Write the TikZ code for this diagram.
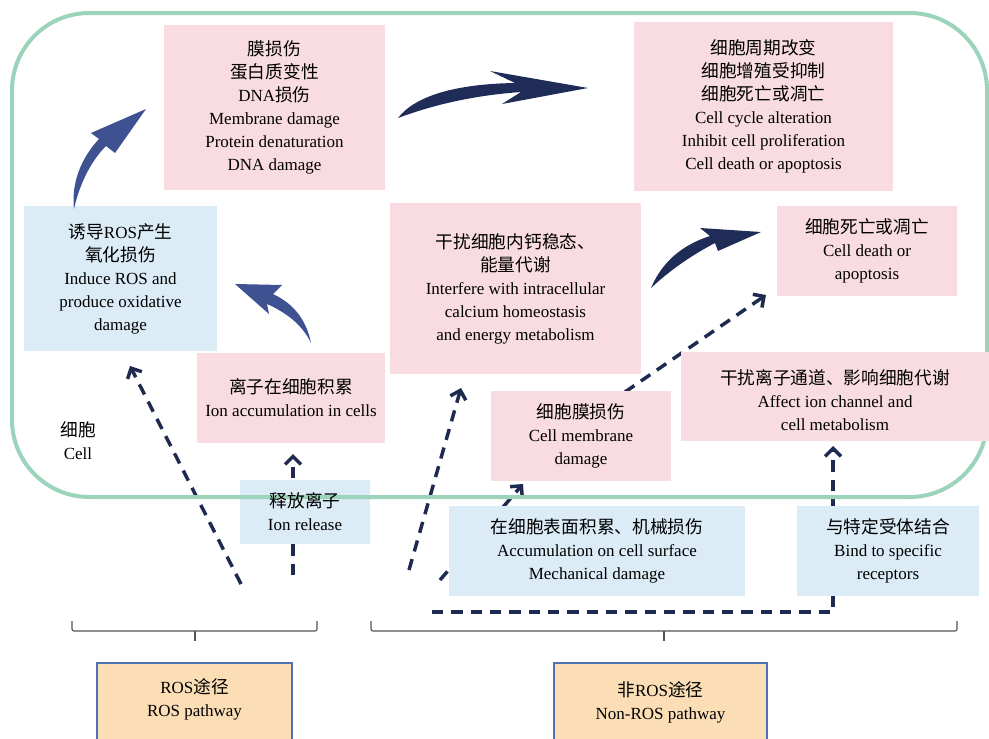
\documentclass[tikz,border=0pt]{standalone}
\usepackage{fontspec}
\setmainfont{Liberation Serif}
\newfontfamily\cjk[Scale=1.04]{Noto Sans CJK SC}
\newcommand{\zh}[1]{{\cjk #1}}
\usetikzlibrary{arrows.meta,fit}
\definecolor{pinkfill}{HTML}{F8DCE1}
\definecolor{bluefill}{HTML}{DBECF7}
\definecolor{orangefill}{HTML}{FBDDB6}
\definecolor{orangeborder}{HTML}{4E73B5}
\definecolor{cellgreen}{HTML}{9BD4BA}
\definecolor{navydash}{HTML}{1E2A50}
\definecolor{navyA}{HTML}{3E5191}
\definecolor{navyB}{HTML}{1F2C58}
\definecolor{bracegray}{HTML}{555555}
\begin{document}
\begin{tikzpicture}[x=0.75pt,y=-0.75pt,
  txt/.style={align=center,font=\fontsize{12.75pt}{17.25pt}\selectfont,text=black,inner sep=0pt},
  box/.style={inner sep=0pt,draw=none},
  pinkbox/.style={box,fill=pinkfill},
  bluebox/.style={box,fill=bluefill},
  orangebox/.style={inner sep=0pt,fill=orangefill,draw=orangeborder,line width=1.2pt},
  dasharrow/.style={draw=navydash,line width=2.6pt,dash pattern=on 8.5pt off 6pt,-{Straight Barb[length=6pt,width=12pt]}},
  bracket/.style={draw=bracegray,line width=0.9pt,rounded corners=1.5pt},
  curvA/.style={fill=navyA,draw=none},
  curvB/.style={fill=navyB,draw=none}
]
\useasboundingbox (0,0) rectangle (989,739);
\fill[white] (0,0) rectangle (989,739);
\clip (0,0) rectangle (989,739);

% dashed connector end points
\coordinate (s1) at (241,584); \coordinate (t1) at (130,366);
\coordinate (s2) at (293,575); \coordinate (t2) at (293,454);
\coordinate (s3) at (409,570); \coordinate (t3) at (461,388);
\coordinate (s4) at (440,580); \coordinate (t4) at (523,484);
\coordinate (s5) at (625,392); \coordinate (t5) at (766,295);
\coordinate (s6) at (432,612); \coordinate (t6) at (833,446);

% dashed connectors (behind the boxes)
\draw[dasharrow] (s1) -- (t1);
\draw[dasharrow] (s2) -- (t2);
\draw[dasharrow] (s3) -- (t3);
\draw[dasharrow] (s4) -- (t4);
\draw[dasharrow] (s5) -- (t5);
\draw[dasharrow] (s6) -| (t6);

% boxes
\node[pinkbox, fit={(164,25) (385,190)}] (A) {};
\node[pinkbox, fit={(634,22) (893,191)}] (B) {};
\node[bluebox, fit={(24,206) (217,351)}] (C) {};
\node[pinkbox, fit={(390,203) (641,374)}] (D) {};
\node[pinkbox, fit={(777,206) (957,296)}] (E) {};
\node[pinkbox, fit={(197,353) (385,443)}] (F) {};
\node[pinkbox, fit={(491,391) (671,481)}] (G) {};
\node[bluebox, fit={(240,480) (370,544)}] (I) {};
\node[bluebox, fit={(449,506) (745,596)}] (J) {};
\node[bluebox, fit={(797,506) (979,596)}] (K) {};

% cell outline
\draw[cellgreen, line width=3pt, rounded corners=58pt] (12,13) rectangle (987,497);

\node[pinkbox, fit={(681,352) (992,441)}] (H) {};

% box texts
\node[txt] (At) at (A.center)
  {\zh{膜损伤}\\ \zh{蛋白质变性}\\ DNA\zh{损伤}\\ Membrane damage\\ Protein denaturation\\ DNA damage};
\node[txt] (Bt) at (B.center)
  {\zh{细胞周期改变}\\ \zh{细胞增殖受抑制}\\ \zh{细胞死亡或凋亡}\\ Cell cycle alteration\\ Inhibit cell proliferation\\ Cell death or apoptosis};
\node[txt] (Ct) at (C.center)
  {\zh{诱导}ROS\zh{产生}\\ \zh{氧化损伤}\\ Induce ROS and\\ produce oxidative\\ damage};
\node[txt] (Dt) at (D.center)
  {\zh{干扰细胞内钙稳态、}\\ \zh{能量代谢}\\ Interfere with intracellular\\ calcium homeostasis\\ and energy metabolism};
\node[txt] (Et) at (E.center)
  {\zh{细胞死亡或凋亡}\\ Cell death or\\ apoptosis};
\node[txt] (Ft) at (F.center)
  {\zh{离子在细胞积累}\\ Ion accumulation in cells};
\node[txt] (Gt) at (G.center)
  {\zh{细胞膜损伤}\\ Cell membrane\\ damage};
\node[txt] (Ht) at (835,400)
  {\zh{干扰离子通道、影响细胞代谢}\\ Affect ion channel and\\ cell metabolism};
\node[txt] (It) at (I.center)
  {\zh{释放离子}\\ Ion release};
\node[txt] (Jt) at (J.center)
  {\zh{在细胞表面积累、机械损伤}\\ Accumulation on cell surface\\ Mechanical damage};
\node[txt] (Kt) at (K.center)
  {\zh{与特定受体结合}\\ Bind to specific\\ receptors};

\node[txt] (cell) at (78,441) {\zh{细胞}\\ Cell};

% braces
\draw[bracket] (72,621) -- (72,631) -- (317,631) -- (317,621);
\draw[bracket] (195,631) -- (195,641);
\draw[bracket] (371,621) -- (371,631) -- (957,631) -- (957,621);
\draw[bracket] (664,631) -- (664,641);

% pathway boxes
\node[orangebox, fit={(97,663) (292,752)}] (L) {};
\node[txt] (Lt) at (194.5,699) {ROS\zh{途径}\\ ROS pathway};
\node[orangebox, fit={(554,663) (767,752)}] (M) {};
\node[txt] (Mt) at (660.5,702) {\zh{非}ROS\zh{途径}\\ Non-ROS pathway};

% curved solid arrows
\path[curvA] (74,209) .. controls (71,182) and (82,157) .. (99,139) -- (91,133) -- (146,109)
  -- (115,153) -- (106,146) .. controls (92,160) and (80,182) .. (74,209) -- cycle;
\path[curvB] (398,118) .. controls (415,96) and (455,84) .. (515,83) -- (490,71) -- (588,88)
  -- (502,104) -- (521,92) .. controls (465,96) and (425,108) .. (398,118) -- cycle;
\path[curvA] (311,343) .. controls (306,318) and (292,303) .. (273,294) -- (282,285) -- (235,284)
  -- (269,314) -- (267,304) .. controls (285,312) and (302,324) .. (311,343) -- cycle;
\path[curvB] (651,288) .. controls (662,262) and (682,245) .. (710,236) -- (700,228) -- (761,232)
  -- (718,251) -- (715,243) .. controls (690,256) and (668,272) .. (651,288) -- cycle;
\end{tikzpicture}
\end{document}
